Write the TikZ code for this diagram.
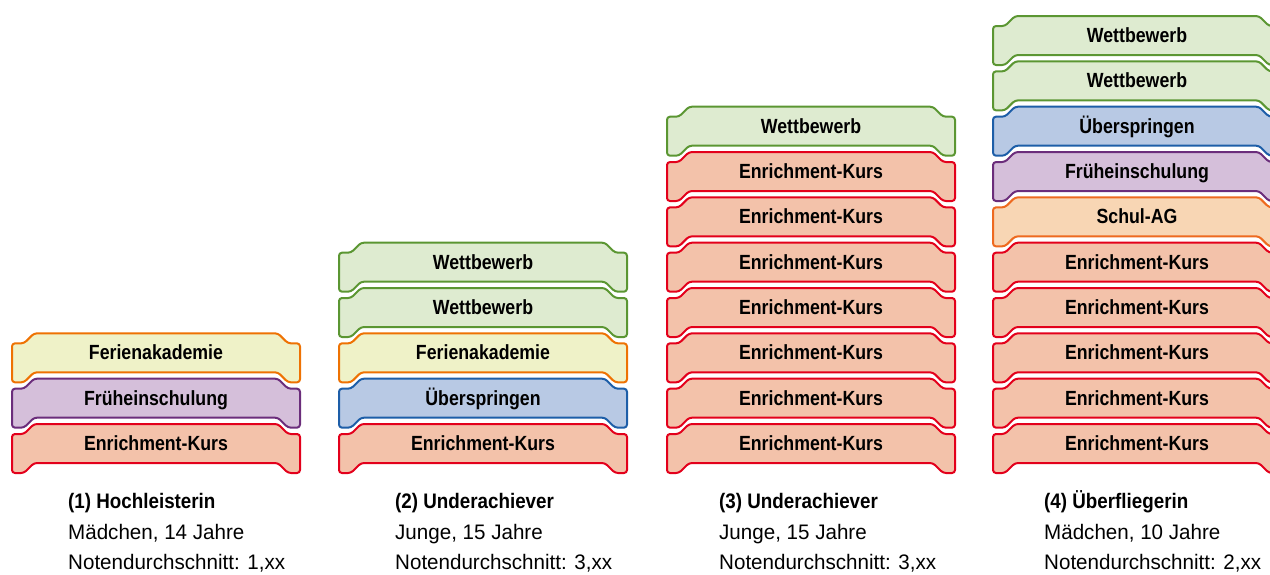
\documentclass[tikz,border=0pt]{standalone}
\usepackage{fontspec}
\setmainfont{Liberation Sans}[FakeStretch=0.98]
\newfontfamily\lblfont{Liberation Sans}[FakeStretch=0.865]
\newfontfamily\capbfont{Liberation Sans}[FakeStretch=0.895]
\definecolor{enrF}{HTML}{F3C2AA}\definecolor{enrD}{HTML}{E3001B}
\definecolor{frF}{HTML}{D5BFDA}\definecolor{frD}{HTML}{6B2D7B}
\definecolor{feF}{HTML}{EFF2C8}\definecolor{feD}{HTML}{EE7203}
\definecolor{wbF}{HTML}{DEEBD0}\definecolor{wbD}{HTML}{5B9632}
\definecolor{ueF}{HTML}{B8C9E4}\definecolor{ueD}{HTML}{1D5EA8}
\definecolor{saF}{HTML}{F8D6B4}\definecolor{saD}{HTML}{EE6A1F}
\tikzset{
  brickline/.style={rounded corners=3pt, line width=2pt, line join=round},
  enr/.style={brickline, fill=enrF, draw=enrD},
  frueh/.style={brickline, fill=frF, draw=frD},
  ferien/.style={brickline, fill=feF, draw=feD},
  wett/.style={brickline, fill=wbF, draw=wbD},
  ueber/.style={brickline, fill=ueF, draw=ueD},
  schul/.style={brickline, fill=saF, draw=saD},
  lbl/.style={inner sep=0pt, anchor=base, font=\lblfont\bfseries\fontsize{20.5}{21}\selectfont},
  capb/.style={inner sep=0pt, anchor=base west, font=\capbfont\bfseries\fontsize{21}{24}\selectfont},
  capr/.style={inner sep=0pt, anchor=base west, font=\fontsize{21}{24}\selectfont},
}
\newcommand\brick[5]{%
  \pgfmathsetmacro\bt{424-45.33*#3}%
  \draw[#4] (#2,\bt+10) -- ++(12,0) -- ++(10,-10) -- ++(244,0) -- ++(10,10) -- ++(12,0)
    -- ++(0,39) -- ++(-12,0) -- ++(-10,-10) -- ++(-244,0) -- ++(-10,10) -- ++(-12,0) -- cycle;
  \node[lbl] (#1) at (#2+144,\bt+26.5) {#5};%
}
\newcommand\capblock[5]{%
  \node[capb] (#1a) at (#2,508.7) {#3};
  \node[capr] (#1b) at (#2,539.7) {#4};
  \node[capr] (#1c) at (#2,569) {#5};
}
\begin{document}
\begin{tikzpicture}[x=1pt,y=-1pt]
\useasboundingbox (0,0) rectangle (1270,574);
\clip (0,0) rectangle (1270,574);
% column 1
\brick{a0}{12}{0}{enr}{Enrichment-Kurs}
\brick{a1}{12}{1}{frueh}{Früheinschulung}
\brick{a2}{12}{2}{ferien}{Ferienakademie}
\capblock{capA}{68}{(1) Hochleisterin}{Mädchen, 14 Jahre}{Notendurchschnitt: 1,xx}
% column 2
\brick{b0}{339}{0}{enr}{Enrichment-Kurs}
\brick{b1}{339}{1}{ueber}{Überspringen}
\brick{b2}{339}{2}{ferien}{Ferienakademie}
\brick{b3}{339}{3}{wett}{Wettbewerb}
\brick{b4}{339}{4}{wett}{Wettbewerb}
\capblock{capB}{395}{(2) Underachiever}{Junge, 15 Jahre}{Notendurchschnitt: 3,xx}
% column 3
\brick{c0}{667}{0}{enr}{Enrichment-Kurs}
\brick{c1}{667}{1}{enr}{Enrichment-Kurs}
\brick{c2}{667}{2}{enr}{Enrichment-Kurs}
\brick{c3}{667}{3}{enr}{Enrichment-Kurs}
\brick{c4}{667}{4}{enr}{Enrichment-Kurs}
\brick{c5}{667}{5}{enr}{Enrichment-Kurs}
\brick{c6}{667}{6}{enr}{Enrichment-Kurs}
\brick{c7}{667}{7}{wett}{Wettbewerb}
\capblock{capC}{719}{(3) Underachiever}{Junge, 15 Jahre}{Notendurchschnitt: 3,xx}
% column 4
\brick{d0}{993}{0}{enr}{Enrichment-Kurs}
\brick{d1}{993}{1}{enr}{Enrichment-Kurs}
\brick{d2}{993}{2}{enr}{Enrichment-Kurs}
\brick{d3}{993}{3}{enr}{Enrichment-Kurs}
\brick{d4}{993}{4}{enr}{Enrichment-Kurs}
\brick{d5}{993}{5}{schul}{Schul-AG}
\brick{d6}{993}{6}{frueh}{Früheinschulung}
\brick{d7}{993}{7}{ueber}{Überspringen}
\brick{d8}{993}{8}{wett}{Wettbewerb}
\brick{d9}{993}{9}{wett}{Wettbewerb}
\capblock{capD}{1044}{(4) Überfliegerin}{Mädchen, 10 Jahre}{Notendurchschnitt: 2,xx}
\end{tikzpicture}
\end{document}
